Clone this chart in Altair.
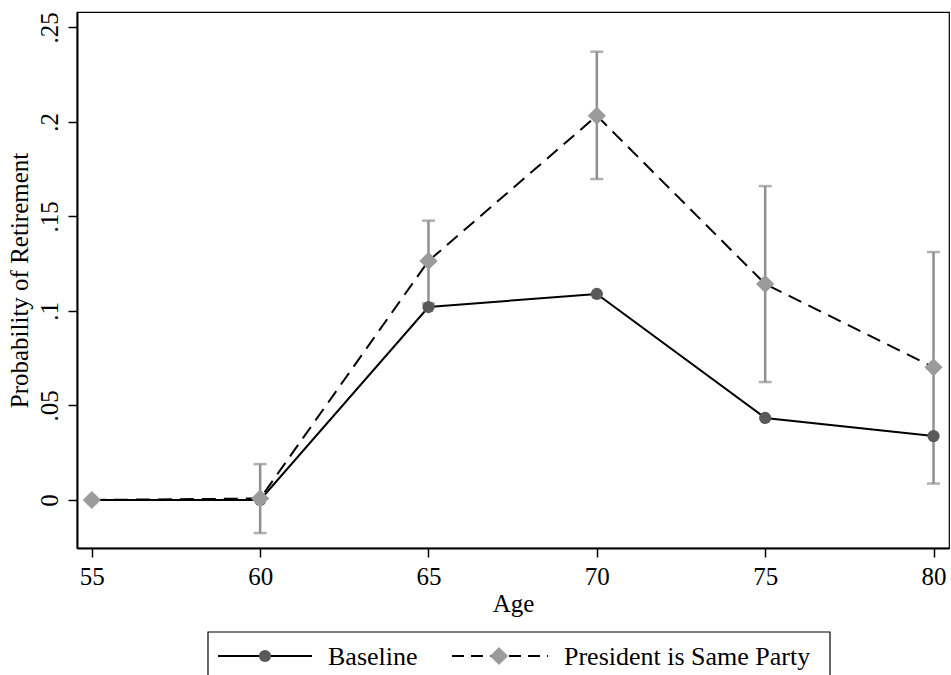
import altair as alt
import pandas as pd

# Predicted probability of retirement by age, with 95% intervals
ages = [55, 60, 65, 70, 75, 80]
baseline = [0.0, 0.0, 0.1021, 0.1090, 0.0434, 0.0338]
same_party = [0.0, 0.0008, 0.1265, 0.2033, 0.1143, 0.0702]

ci_ages = [60, 65, 70, 75, 80]
ci_low = [-0.0175, 0.1040, 0.1698, 0.0624, 0.0087]
ci_high = [0.0190, 0.1478, 0.2372, 0.1661, 0.1312]

series_names = ["Baseline", "President is Same Party"]
x_ticks = [55, 60, 65, 70, 75, 80]
y_ticks = [0, 0.05, 0.1, 0.15, 0.2, 0.25]

FONT = "Liberation Serif, Times New Roman, DejaVu Serif, serif"
CIRCLE_COLOR = "#5a5a5a"
DIAMOND_COLOR = "#9b9b9b"
CI_COLOR = "#8f8f8f"

base_df = pd.DataFrame({"age": ages, "prob": baseline, "series": series_names[0]})
party_df = pd.DataFrame({"age": ages, "prob": same_party, "series": series_names[1]})
ci_df = pd.DataFrame({"age": ci_ages, "low": ci_low, "high": ci_high})

x_enc = alt.X(
    "age:Q",
    scale=alt.Scale(domain=[54.56, 80.46], nice=False, zero=False),
    axis=alt.Axis(
        values=x_ticks, title="Age", format="d",
        labelFontSize=25, titleFontSize=25, labelPadding=7, titlePadding=2,
        tickSize=9, tickWidth=1.5, domainWidth=2,
    ),
)
y_scale = alt.Scale(domain=[-0.0254, 0.2582], nice=False, zero=False)
y_enc = alt.Y(
    "prob:Q",
    scale=y_scale,
    axis=alt.Axis(
        values=y_ticks, title="Probability of Retirement",
        labelExpr="replace(format(datum.value, '~g'), '0.', '.')",
        labelAngle=270, labelAlign="center", labelBaseline="alphabetic",
        labelFontSize=25, titleFontSize=25, labelPadding=11, titlePadding=5,
        tickSize=9, tickWidth=1.5, domainWidth=2,
    ),
)

# Confidence interval whiskers with caps
ci_rule = alt.Chart(ci_df).mark_rule(color=CI_COLOR, strokeWidth=2.5).encode(
    x=x_enc, y=alt.Y("low:Q", scale=y_scale), y2="high:Q"
)
cap_low = alt.Chart(ci_df).mark_tick(
    color=CI_COLOR, orient="horizontal", size=13, thickness=2.5
).encode(x=x_enc, y=alt.Y("low:Q", scale=y_scale))
cap_high = alt.Chart(ci_df).mark_tick(
    color=CI_COLOR, orient="horizontal", size=13, thickness=2.5
).encode(x=x_enc, y=alt.Y("high:Q", scale=y_scale))

base_line = alt.Chart(base_df).mark_line(color="black", strokeWidth=2).encode(x=x_enc, y=y_enc)
base_pts = alt.Chart(base_df).mark_point(
    shape="circle", filled=True, size=150, color=CIRCLE_COLOR, opacity=1
).encode(x=x_enc, y=y_enc)

party_line = alt.Chart(party_df).mark_line(
    color="black", strokeWidth=2, strokeDash=[14, 8]
).encode(x=x_enc, y=y_enc)
party_pts = alt.Chart(party_df).mark_point(
    shape="diamond", filled=True, size=330, color=DIAMOND_COLOR, opacity=1
).encode(x=x_enc, y=y_enc)

# Legend below the plot region
one = pd.DataFrame({"k": [0]})
leg_box = alt.Chart(one).mark_rect(fill="white", stroke="black", strokeWidth=1.2).encode(
    x=alt.value(131), x2=alt.value(753), y=alt.value(620), y2=alt.value(700)
)
leg_line1 = alt.Chart(one).mark_rule(color="black", strokeWidth=2).encode(
    x=alt.value(141), x2=alt.value(235), y=alt.value(644)
)
leg_pt1 = alt.Chart(one).mark_point(
    shape="circle", filled=True, size=150, color=CIRCLE_COLOR, opacity=1
).encode(x=alt.value(188), y=alt.value(644))
leg_txt1 = alt.Chart(one).mark_text(
    align="left", baseline="middle", fontSize=26, font=FONT, color="black"
).encode(x=alt.value(251), y=alt.value(645), text=alt.value(series_names[0]))

leg_line2 = alt.Chart(one).mark_rule(color="black", strokeWidth=2, strokeDash=[12, 7]).encode(
    x=alt.value(375), x2=alt.value(471), y=alt.value(644)
)
leg_pt2 = alt.Chart(one).mark_point(
    shape="diamond", filled=True, size=330, color=DIAMOND_COLOR, opacity=1
).encode(x=alt.value(422), y=alt.value(644))
leg_txt2 = alt.Chart(one).mark_text(
    align="left", baseline="middle", fontSize=26, font=FONT, color="black"
).encode(x=alt.value(487), y=alt.value(645), text=alt.value(series_names[1]))

chart = alt.layer(
    ci_rule, cap_low, cap_high,
    base_line, base_pts, party_line, party_pts,
    leg_box, leg_line1, leg_pt1, leg_txt1, leg_line2, leg_pt2, leg_txt2,
).properties(
    width=872, height=536,
    padding={"left": 77, "top": 12, "right": 2, "bottom": 127},
    autosize=alt.AutoSizeParams(type="none"),
    background="white",
).configure_view(
    stroke="black", strokeWidth=1.2
).configure_axis(
    grid=False, domainColor="black", tickColor="black",
    labelColor="black", titleColor="black",
    labelFont=FONT, titleFont=FONT, titleFontWeight="normal",
)

chart.save("out.html", embed_options={"renderer": "svg", "actions": False})
